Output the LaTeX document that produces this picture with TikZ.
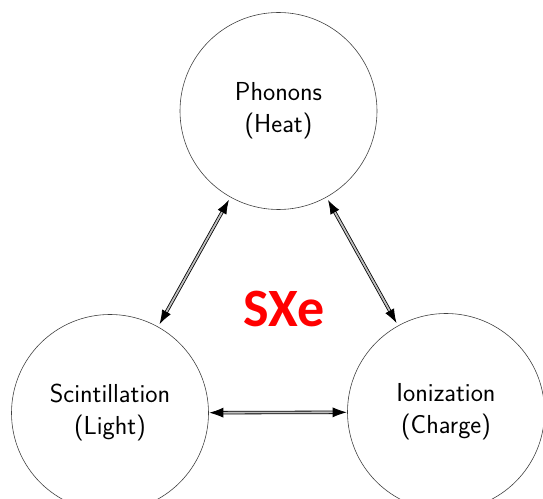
\documentclass[tikz,border=0pt]{standalone}
\usepackage{fontspec}
\newfontfamily\sxefont{Carlito}
\usepackage{tikz}
\usetikzlibrary{arrows.meta,positioning}

\begin{document}
\begin{tikzpicture}[
  x=1pt,y=1pt,
  channel/.style={draw=black!75,circle,line width=0.6pt,minimum size=197pt,inner sep=0pt,align=center,font=\sffamily\fontsize{26}{32}\selectfont},
  arrow/.style={{Latex[length=14pt,width=10pt]}-{Latex[length=14pt,width=10pt]},double=black!25,double distance=1.8pt,line width=0.8pt,shorten >=3pt,shorten <=3pt}
]
\useasboundingbox (0,0) rectangle (543,498);
\node[channel] (phonons) at (278.5,387) {Phonons\\(Heat)};
\node[channel] (scint) at (110,85) {Scintillation\\(Light)};
\node[channel] (ion) at (446,86) {Ionization\\(Charge)};
\node[text=red,font=\sxefont\bfseries\fontsize{54}{60}\selectfont] (sxe) at (284,189) {SXe};
\draw[arrow] (scint) -- (phonons);
\draw[arrow] (phonons) -- (ion);
\draw[arrow,shorten >=0.5pt,shorten <=0.5pt] (scint) -- (ion);
\end{tikzpicture}
\end{document}
